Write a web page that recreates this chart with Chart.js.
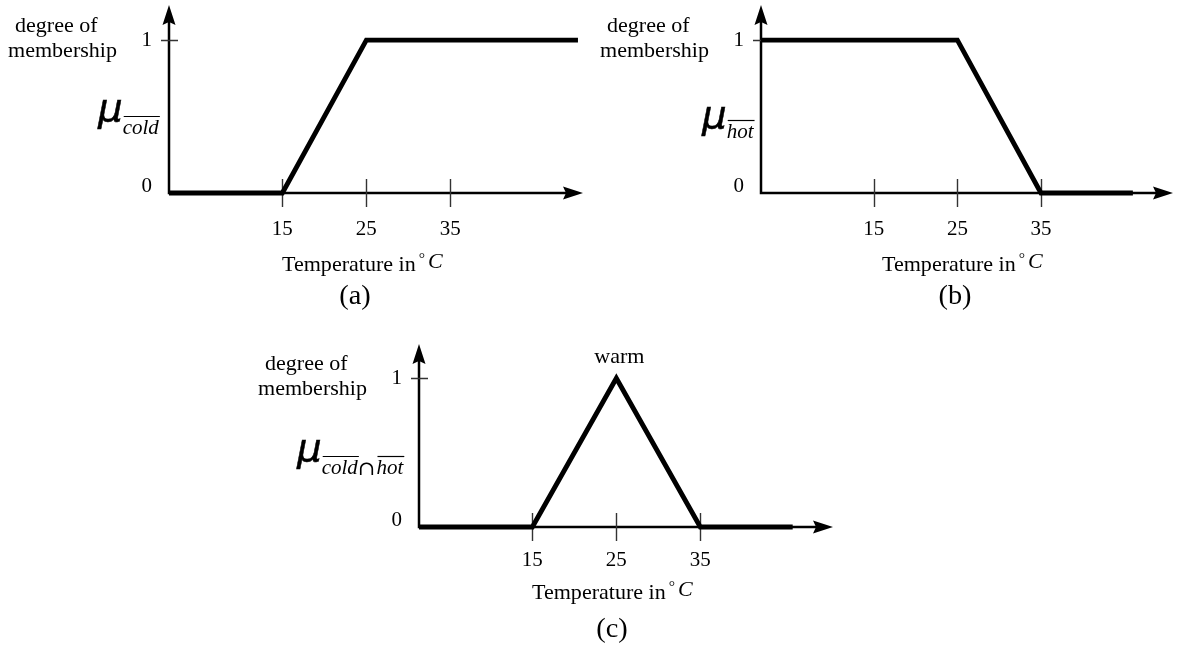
<!DOCTYPE html>
<html>
<head>
<meta charset="utf-8">
<script src="https://cdn.jsdelivr.net/npm/chart.js@4.4.1/dist/chart.umd.min.js"></script>
<style>
  html, body { margin: 0; padding: 0; background: #ffffff; }
  #wrap { position: relative; width: 1183px; height: 651px; overflow: hidden; }
  #wrap canvas { position: absolute; left: 0; top: 0; }
</style>
</head>
<body>
<div id="wrap">
  <canvas id="chartA" width="1183" height="651"></canvas>
  <canvas id="chartB" width="1183" height="651"></canvas>
  <canvas id="chartC" width="1183" height="651"></canvas>
</div>
<script>
// ---------------- data ----------------
const tempTicks = [15, 25, 35];
const membershipTicks = [0, 1];

const coldTemps = [1.5, 15, 25, 50.2];
const coldValues = [0, 0, 1, 1];

const hotTemps = [1.5, 25, 35, 46];
const hotValues = [1, 1, 0, 0];

const warmTemps = [1.5, 15, 25, 35, 46];
const warmValues = [0, 0, 1, 0, 0];

const yTitleLines = ['degree of', 'membership'];
const xTitleText = 'Temperature in';
const xTitleUnit = 'C';
const panelLabels = ['(a)', '(b)', '(c)'];
const muSubscriptsA = ['cold'];
const muSubscriptsB = ['hot'];
const muSubscriptsC = ['cold', 'hot'];
const peakLabel = 'warm';

// axis ranges
const X_MIN = 1.5, X_MAX = 50.8, Y_MIN = 0, Y_MAX = 1.23;

// ---------------- drawing helpers ----------------
const SERIF = '"Liberation Serif", "Times New Roman", "DejaVu Serif", serif';
const SANS = '"DejaVu Sans", "Liberation Sans", Arial, sans-serif';
const SX = 1.05; // slight horizontal stretch of the original figure's lettering

function txt(ctx, s, x, y, font, align, baseline, strokeW) {
  ctx.save();
  ctx.font = font;
  ctx.textAlign = align || 'left';
  ctx.textBaseline = baseline || 'alphabetic';
  ctx.fillStyle = '#000';
  ctx.translate(x, y);
  ctx.scale(SX, 1);
  ctx.fillText(s, 0, 0);
  if (strokeW) {
    ctx.strokeStyle = '#000';
    ctx.lineWidth = strokeW;
    ctx.strokeText(s, 0, 0);
  }
  const w = ctx.measureText(s).width * SX;
  ctx.restore();
  return w;
}

function arrowHead(ctx, tipX, tipY, dir) {
  const L = 20, H = 6.5;
  ctx.beginPath();
  if (dir === 'right') {
    ctx.moveTo(tipX, tipY);
    ctx.lineTo(tipX - L, tipY - H);
    ctx.lineTo(tipX - L + 3, tipY);
    ctx.lineTo(tipX - L, tipY + H);
  } else {
    ctx.moveTo(tipX, tipY);
    ctx.lineTo(tipX - H, tipY + L);
    ctx.lineTo(tipX, tipY + L - 3);
    ctx.lineTo(tipX + H, tipY + L);
  }
  ctx.closePath();
  ctx.fillStyle = '#000';
  ctx.fill();
}

const axesPlugin = {
  id: 'fuzzyAxes',
  beforeDatasetsDraw(chart, args, opts) {
    const ctx = chart.ctx;
    const xs = chart.scales.x, ys = chart.scales.y;
    const a = chart.chartArea;
    const y0 = ys.getPixelForValue(0);
    ctx.save();
    ctx.strokeStyle = '#000';
    ctx.lineWidth = 2.5;
    ctx.beginPath();
    ctx.moveTo(a.left, y0);
    ctx.lineTo(a.right - 10, y0);
    ctx.moveTo(a.left, y0 + 1.2);
    ctx.lineTo(a.left, a.top + 10);
    ctx.stroke();
    arrowHead(ctx, a.right, y0, 'right');
    arrowHead(ctx, a.left, a.top, 'up');
    ctx.strokeStyle = '#333';
    ctx.lineWidth = 1.4;
    ctx.beginPath();
    tempTicks.forEach(t => {
      const px = Math.round(xs.getPixelForValue(t)) + 0.5;
      ctx.moveTo(px, y0 - 14);
      ctx.lineTo(px, y0 + 14);
    });
    const y1 = Math.round(ys.getPixelForValue(1)) + 0.5;
    ctx.moveTo(a.left - 8, y1);
    ctx.lineTo(a.left + 9, y1);
    ctx.stroke();
    ctx.restore();
  },
  afterDraw(chart, args, opts) {
    const ctx = chart.ctx;
    const xs = chart.scales.x, ys = chart.scales.y;
    const a = chart.chartArea;
    const y0 = ys.getPixelForValue(0);
    const y1 = ys.getPixelForValue(1);
    const fText = '21px ' + SERIF;
    const fTick = '20px ' + SERIF;
    membershipTicks.forEach(v => {
      const py = ys.getPixelForValue(v) + (v === 0 ? -6 : 1);
      txt(ctx, String(v), a.left - 17, py, fTick, 'right', 'middle');
    });
    tempTicks.forEach(t => {
      txt(ctx, String(t), xs.getPixelForValue(t), y0 + opts.tickLabelDy, fTick, 'center', 'middle');
    });
    txt(ctx, yTitleLines[0], a.left - 154, y1 - 8, fText, 'left', 'alphabetic');
    txt(ctx, yTitleLines[1], a.left - 161, y1 + 17, fText, 'left', 'alphabetic');
    const mu = opts.mu;
    const muW = txt(ctx, '\u03BC', mu.x, mu.base, 'oblique 37px ' + SANS, 'left', 'alphabetic', 0.5);
    let sx = mu.x + muW;
    const subFont = 'italic 20px ' + SERIF;
    opts.subs.forEach((s, i) => {
      if (i > 0) {
        const cw = txt(ctx, '\u2229', sx, mu.subBase + 1, '20px "DejaVu Serif", ' + SERIF, 'left', 'alphabetic');
        sx += cw + 1;
      }
      const w = txt(ctx, s, sx, mu.subBase, subFont, 'left', 'alphabetic');
      ctx.save();
      ctx.strokeStyle = '#000';
      ctx.lineWidth = 1.2;
      ctx.beginPath();
      ctx.moveTo(sx + 1, mu.over + 0.5);
      ctx.lineTo(sx + w + 1, mu.over + 0.5);
      ctx.stroke();
      ctx.restore();
      sx += w;
    });
    const t = opts.title;
    const tw = txt(ctx, xTitleText, t.x, t.y, fText, 'left', 'middle');
    const dw = txt(ctx, '\u00B0', t.x + tw + 3, t.y - 6, '15px ' + SERIF, 'left', 'middle');
    txt(ctx, xTitleUnit, t.x + tw + dw + 6, t.y - 3, 'italic 21px ' + SERIF, 'left', 'middle');
    txt(ctx, opts.caption.text, opts.caption.x, opts.caption.y, '27px ' + SERIF, 'center', 'middle');
    if (opts.peak) {
      txt(ctx, opts.peak, xs.getPixelForValue(25) + 3, y1 - 21, fText, 'center', 'middle');
    }
  }
};

function makeChart(id, temps, values, area, deco) {
  const pts = temps.map((t, i) => ({ x: t, y: values[i] }));
  return new Chart(document.getElementById(id), {
    type: 'line',
    data: {
      datasets: [{
        data: pts,
        borderColor: '#000',
        borderWidth: 4.8,
        borderJoinStyle: 'miter',
        borderCapStyle: 'butt',
        pointRadius: 0,
        tension: 0,
        fill: false,
        clip: 6
      }]
    },
    options: {
      responsive: false,
      animation: false,
      events: [],
      devicePixelRatio: 1,
      layout: {
        padding: { left: area.left, top: area.top, right: 1183 - area.right, bottom: 651 - area.bottom }
      },
      scales: {
        x: { type: 'linear', min: X_MIN, max: X_MAX, display: false },
        y: { type: 'linear', min: Y_MIN, max: Y_MAX, display: false }
      },
      plugins: {
        legend: { display: false },
        tooltip: { enabled: false },
        fuzzyAxes: deco
      }
    },
    plugins: [axesPlugin]
  });
}

makeChart('chartA', coldTemps, coldValues,
  { left: 169, top: 5, right: 583, bottom: 193 },
  { tickLabelDy: 37, mu: { x: 98, base: 121, subBase: 134, over: 116 }, subs: muSubscriptsA,
    title: { x: 282, y: 265 }, caption: { text: panelLabels[0], x: 355, y: 297 } });

makeChart('chartB', hotTemps, hotValues,
  { left: 761, top: 5, right: 1173, bottom: 193 },
  { tickLabelDy: 37, mu: { x: 702, base: 128, subBase: 138, over: 120 }, subs: muSubscriptsB,
    title: { x: 882, y: 265 }, caption: { text: panelLabels[1], x: 955, y: 297 } });

makeChart('chartC', warmTemps, warmValues,
  { left: 419, top: 344, right: 833, bottom: 527 },
  { tickLabelDy: 34, mu: { x: 297, base: 461, subBase: 474, over: 456 }, subs: muSubscriptsC,
    title: { x: 532, y: 593 }, caption: { text: panelLabels[2], x: 612, y: 630 }, peak: peakLabel });
</script>
</body>
</html>
